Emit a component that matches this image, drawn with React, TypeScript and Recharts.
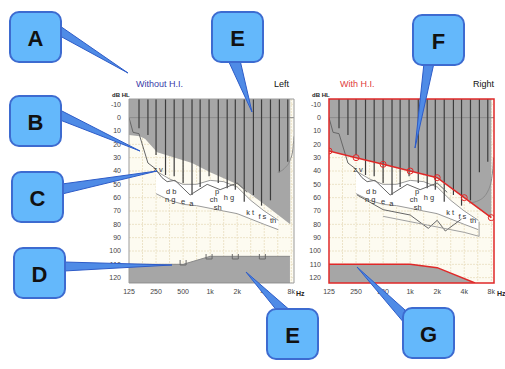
import React from "react";
import {
  ComposedChart,
  Area,
  Line,
  Scatter,
  XAxis,
  YAxis,
  CartesianGrid,
  ReferenceLine,
  ReferenceArea,
} from "recharts";

// x is octaves above 125 Hz, y is dB HL
const FREQ_TICKS = [0, 1, 2, 3, 4, 5, 6];
const FREQ_LABELS = ["125", "250", "500", "1k", "2k", "4k", "8k"];
const DB_TICKS = [-10, 0, 10, 20, 30, 40, 50, 60, 70, 80, 90, 100, 110, 120];
const GRID_OCT = [0.5, 1, 1.5, 2, 2.5, 3, 3.5, 4, 4.5, 5, 5.5, 6];
const GRID_DB = [-10, 0, 10, 20, 30, 40, 50, 60, 70, 80, 90, 100, 110, 120];

// unaided: inaudible area (top grey)
const LEFT_GRAY_OCT = [0, 0.4, 0.6, 1.04, 1.7, 2.33, 3.0, 4.0, 5.0, 5.96];
const LEFT_GRAY_DB = [13, 14, 16, 26, 30, 34, 41, 50, 65, 80];

// unaided: uncomfortable level area (bottom grey)
const LEFT_UCL_OCT = [0, 2, 3, 5.95];
const LEFT_UCL_DB = [110, 110, 104, 104];
const UCL_MARK_OCT = [2, 2.96, 3.93, 4.93];
const UCL_MARK_DB = [109, 104.5, 104.5, 104.5];

// aided: threshold with H.I. and MPO
const AIDED_OCT = [0, 1, 2, 3, 4, 5, 6];
const AIDED_DB = [25, 30, 35, 40, 45, 60, 75];
const MPO_OCT = [0, 3, 4, 5.4];
const MPO_DB = [110, 110, 112.5, 124];

// hatch lines
const HATCH_OCT = [0.37, 0.7, 1.0, 1.35, 1.67, 2.0, 2.33, 2.63, 2.96, 3.3, 3.63, 3.93, 4.26, 4.6, 4.9, 5.23, 5.56, 5.87];
const HATCH_END_DB = [8, 13, 28, 43, 44, 49, 58, 52, 44, 49, 53, 54, 63, 58, 66, 62, 41, 33];

// thin threshold line
const THRESH_OCT = [0, 0.15, 0.37, 0.52, 0.7, 0.96, 1.22, 1.41, 1.7, 2.26, 2.89, 3.37, 4.0, 4.37];
const THRESH_DB = [0, 11, 12, 22, 34, 38, 45, 48, 47, 58, 50, 54, 49, 56];

// speech banana
const BANANA_OCT = [1.0, 1.5, 2.0, 2.5, 3.0, 3.5, 4.0, 4.5, 5.0, 5.52];
const BANANA_TOP = [40, 46, 50, 50, 47, 48, 52, 62, 70, 77];
const BANANA_BOTTOM = [57, 62, 65, 66, 68, 70, 72, 76, 80, 84];

// right-hand edge curves
const LEFT_EDGE_OCT = [6.1, 6.05, 5.95, 5.75, 5.5];
const LEFT_EDGE_DB = [14, 25, 32, 38, 41];
const RIGHT_EDGE_OCT = [6.08, 6.05, 5.9, 5.55, 5.18];
const RIGHT_EDGE_DB = [30, 40, 54, 62, 64];

// aided speech lines
const AIDED_SPEECH_OCT = [1.04, 2.0, 3.0, 3.67, 4.0, 4.3, 4.9];
const AIDED_SPEECH_DB = [58, 69, 73, 83, 77, 85, 76];
const AIDED_LOW_OCT = [2.0, 3.0, 4.0, 5.0, 5.55, 5.55];
const AIDED_LOW_DB = [74, 78, 82, 86, 89, 78];

const PHONEMES = ["z v", "d b", "n g", "e", "a", "p", "h g", "ch", "sh", "k t", "f s", "th"];
const PHONEME_OCT = [1.07, 1.56, 1.52, 2.0, 2.3, 3.26, 3.7, 3.13, 3.28, 4.48, 4.93, 5.33];
const PHONEME_DB = [39, 55, 61, 63, 64, 55.5, 59.5, 61.5, 67, 71, 74, 77];

const FONT = "'Liberation Sans', Arial, sans-serif";
const X_MAX = 6.1;
const Y_MIN = -14;
const Y_MAX = 124;

const pts = (xs: number[], ys: number[]) => xs.map((x, i) => ({ x, y: ys[i] }));
const above = (xs: number[], ys: number[]) => xs.map((x, i) => ({ x, r: [Y_MIN, ys[i]] }));
const below = (xs: number[], ys: number[]) => xs.map((x, i) => ({ x, r: [ys[i], Y_MAX] }));

const bananaData = BANANA_OCT.map((x, i) => ({ x, r: [BANANA_TOP[i], BANANA_BOTTOM[i]] }));
const phonemeData = PHONEME_OCT.map((x, i) => ({ x, y: PHONEME_DB[i], t: PHONEMES[i] }));

const UMark = (p: any) => (
  <path
    d={`M${p.cx - 3},${p.cy - 3} L${p.cx - 3},${p.cy + 2} L${p.cx + 3},${p.cy + 2} L${p.cx + 3},${p.cy - 3}`}
    fill="none"
    stroke="#6a6a6a"
    strokeWidth={1}
  />
);

const PhonemeText = (p: any) => (
  <text x={p.cx} y={p.cy} textAnchor="middle" dominantBaseline="central" fontSize={7.5} fill="#333" fontFamily={FONT}>
    {p.payload.t}
  </text>
);

function Audiogram({ aided }: { aided: boolean }) {
  const red = "#e02828";
  return (
    <ComposedChart width={205} height={230} margin={{ top: 29, right: 11, bottom: 0, left: 0 }}>
      <CartesianGrid
        fill="#fdfbf1"
        fillOpacity={1}
        stroke="#ece3c8"
        strokeDasharray="2 1"
        verticalValues={GRID_OCT}
        horizontalValues={GRID_DB}
      />
      <XAxis
        type="number"
        dataKey="x"
        domain={[0, X_MAX]}
        ticks={FREQ_TICKS}
        interval={0}
        tickFormatter={(v: number) => FREQ_LABELS[v]}
        axisLine={false}
        tickLine={false}
        tickSize={4}
        height={17}
        allowDataOverflow
        tick={{ fontSize: 7, fill: "#444", fontFamily: FONT }}
      />
      <YAxis
        type="number"
        dataKey="y"
        domain={[Y_MIN, Y_MAX]}
        reversed
        ticks={DB_TICKS}
        interval={0}
        axisLine={false}
        tickLine={false}
        width={29}
        allowDataOverflow
        tick={{ fontSize: 7, fill: "#444", fontFamily: FONT }}
      />
      <ReferenceLine y={0} stroke="#8a8a8a" strokeWidth={1} />
      <Area
        data={bananaData}
        dataKey="r"
        type="linear"
        fill="#ffffff"
        fillOpacity={1}
        stroke="#9a9a9a"
        strokeWidth={1}
        dot={false}
        activeDot={false}
        isAnimationActive={false}
      />
      {aided ? (
        <Area
          data={above(AIDED_OCT, AIDED_DB)}
          dataKey="r"
          type="linear"
          fill="#a6a6a6"
          fillOpacity={1}
          stroke="none"
          dot={false}
          activeDot={false}
          isAnimationActive={false}
        />
      ) : (
        <Area
          data={above(LEFT_GRAY_OCT, LEFT_GRAY_DB)}
          dataKey="r"
          type="linear"
          fill="#a6a6a6"
          fillOpacity={1}
          stroke="none"
          dot={false}
          activeDot={false}
          isAnimationActive={false}
        />
      )}
      {aided ? (
        <Area
          data={below(MPO_OCT, MPO_DB)}
          dataKey="r"
          type="linear"
          fill="#a6a6a6"
          fillOpacity={1}
          stroke="none"
          dot={false}
          activeDot={false}
          isAnimationActive={false}
        />
      ) : (
        <Area
          data={below(LEFT_UCL_OCT, LEFT_UCL_DB)}
          dataKey="r"
          type="linear"
          fill="#a6a6a6"
          fillOpacity={1}
          stroke="#8a8a8a"
          dot={false}
          activeDot={false}
          isAnimationActive={false}
        />
      )}
      {HATCH_OCT.map((o, i) => (
        <ReferenceLine
          key={"h" + i}
          segment={[
            { x: o, y: Y_MIN },
            { x: o, y: HATCH_END_DB[i] },
          ]}
          stroke="#3c3c3c"
          strokeWidth={1.2}
        />
      ))}
      <Line
        data={pts(THRESH_OCT, THRESH_DB)}
        dataKey="y"
        type="linear"
        stroke="#666"
        strokeWidth={1}
        dot={false}
        activeDot={false}
        isAnimationActive={false}
      />
      <Line
        data={pts(aided ? RIGHT_EDGE_OCT : LEFT_EDGE_OCT, aided ? RIGHT_EDGE_DB : LEFT_EDGE_DB)}
        dataKey="y"
        type="monotone"
        stroke="#8a8a8a"
        strokeWidth={1}
        dot={false}
        activeDot={false}
        isAnimationActive={false}
      />
      {aided && (
        <Line
          data={pts(AIDED_SPEECH_OCT, AIDED_SPEECH_DB)}
          dataKey="y"
          type="linear"
          stroke="#666"
          strokeWidth={1}
          dot={false}
          activeDot={false}
          isAnimationActive={false}
        />
      )}
      {aided && (
        <Line
          data={pts(AIDED_LOW_OCT, AIDED_LOW_DB)}
          dataKey="y"
          type="linear"
          stroke="#a0a0a0"
          strokeWidth={1}
          dot={false}
          activeDot={false}
          isAnimationActive={false}
        />
      )}
      {!aided && (
        <Scatter
          data={pts(UCL_MARK_OCT, UCL_MARK_DB)}
          dataKey="y"
          shape={UMark}
          isAnimationActive={false}
        />
      )}
      <Scatter data={phonemeData} dataKey="y" shape={PhonemeText} isAnimationActive={false} />
      {aided && (
        <Line
          data={pts(AIDED_OCT, AIDED_DB)}
          dataKey="y"
          type="linear"
          stroke={red}
          strokeWidth={1.5}
          dot={{ r: 3, stroke: red, strokeWidth: 1, fill: "none" }}
          activeDot={false}
          isAnimationActive={false}
        />
      )}
      {aided && (
        <Line
          data={pts(MPO_OCT, MPO_DB)}
          dataKey="y"
          type="linear"
          stroke={red}
          strokeWidth={1.5}
          dot={false}
          activeDot={false}
          isAnimationActive={false}
        />
      )}
      <ReferenceArea
        x1={0}
        x2={X_MAX}
        y1={Y_MIN}
        y2={Y_MAX}
        fill="none"
        fillOpacity={0}
        stroke={aided ? red : "#9a9a9a"}
        strokeWidth={aided ? 1.5 : 1}
        zIndex={1500}
      />
    </ComposedChart>
  );
}

const CALLOUTS = [
  { t: "A", x: 10, y: 12, tail: "60,26 60,36 128,73" },
  { t: "B", x: 10, y: 96, tail: "60,110 60,120 140,151" },
  { t: "C", x: 12, y: 172, tail: "62,184 62,194 157,171" },
  { t: "D", x: 14, y: 248, tail: "64,262 64,271 172,265" },
  { t: "E", x: 212, y: 12, tail: "228,60 240,60 252,112" },
  { t: "F", x: 413, y: 15, tail: "424,63 434,63 415,148" },
  { t: "E", x: 267, y: 309, tail: "278,312 292,312 246,272" },
  { t: "G", x: 403, y: 308, tail: "405,310 405,324 357,267" },
];

export default function App() {
  return (
    <div style={{ position: "absolute", left: 0, top: 0, width: 505, height: 369, background: "#fff" }}>
      <div style={{ position: "absolute", left: 100, top: 70 }}>
        <Audiogram aided={false} />
      </div>
      <div style={{ position: "absolute", left: 300, top: 70 }}>
        <Audiogram aided={true} />
      </div>
      <svg width={505} height={369} style={{ position: "absolute", left: 0, top: 0, pointerEvents: "none" }}>
        <g fontFamily={FONT}>
          <text x={136} y={87} fontSize={9} fill="#3a3aa8">Without H.I.</text>
          <text x={289} y={87} fontSize={9} fill="#111" textAnchor="end">Left</text>
          <text x={340} y={87} fontSize={9} fill="#e03a3a">With H.I.</text>
          <text x={494} y={87} fontSize={9} fill="#111" textAnchor="end">Right</text>
          <text x={112} y={97} fontSize={6} fontWeight="bold" fill="#222">dB HL</text>
          <text x={312} y={97} fontSize={6} fontWeight="bold" fill="#222">dB HL</text>
          <text x={296} y={296} fontSize={7} fontWeight="bold" fill="#222">Hz</text>
          <text x={497} y={296} fontSize={7} fontWeight="bold" fill="#222">Hz</text>
        </g>
        {CALLOUTS.map((c, i) => (
          <polygon key={"t" + i} points={c.tail} fill="#4f8be6" stroke="#2e5cc8" strokeWidth={1} />
        ))}
        {CALLOUTS.map((c, i) => (
          <g key={"b" + i}>
            <rect x={c.x} y={c.y} width={51} height={50} rx={9} fill="#64b8fb" stroke="#3d6bd0" strokeWidth={2} />
            <text
              x={c.x + 25.5}
              y={c.y + 26}
              textAnchor="middle"
              dominantBaseline="central"
              fontSize={22}
              fontWeight="bold"
              fill="#111"
              fontFamily={FONT}
            >
              {c.t}
            </text>
          </g>
        ))}
      </svg>
    </div>
  );
}
